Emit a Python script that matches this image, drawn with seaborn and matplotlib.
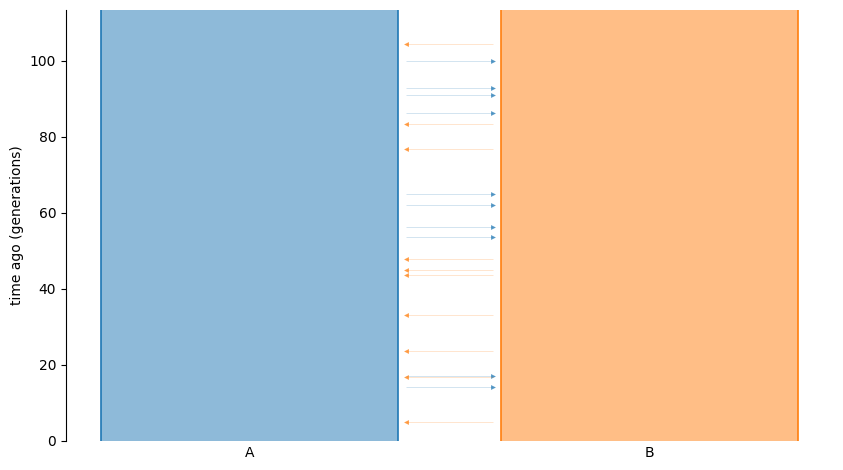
import matplotlib
matplotlib.use("Agg")
import matplotlib.pyplot as plt
import seaborn as sns
import numpy as np

# Data
demes = ["A", "B"]
deme_colors = ["tab:blue", "tab:orange"]
deme_top = [1000.0, 1000.0]  # demes extend to infinity (clipped at axis top)
pulse_times = [104.4, 99.9, 93.0, 91.1, 86.2, 83.4, 76.8, 65.0, 62.0, 56.4,
               53.7, 47.8, 44.9, 43.7, 33.2, 23.7, 17.2, 16.8, 14.3, 4.9]
pulse_source = ["B", "A", "A", "A", "A", "B", "B", "A", "A", "A",
                "A", "B", "B", "B", "B", "B", "A", "B", "A", "B"]
pulse_dest = ["A", "B", "B", "B", "B", "A", "A", "B", "B", "B",
              "B", "A", "A", "A", "A", "A", "B", "A", "B", "A"]
yticks = [0, 20, 40, 60, 80, 100]

sns.set_style("ticks")
plt.rcParams['font.family'] = ['DejaVu Sans']
plt.rcParams.update({'text.color': 'black', 'axes.labelcolor': 'black',
                     'xtick.color': 'black', 'ytick.color': 'black',
                     'axes.edgecolor': 'black'})

fig = plt.figure(figsize=(8.43, 4.70), dpi=100)
ax = fig.add_axes([66/843, 29/470, 767/843, 431/470])

width = 297/400
sns.barplot(x=demes, y=deme_top, hue=demes, palette=deme_colors, width=width,
            alpha=0.5, linewidth=0, saturation=1, legend=False, ax=ax)

ymax = 113.4
pos = {d: i for i, d in enumerate(demes)}
col = {d: c for d, c in zip(demes, deme_colors)}
for d in demes:
    x0 = pos[d] - width/2
    x1 = pos[d] + width/2
    ax.vlines([x0, x1], 0, ymax, color=col[d], lw=1.2, zorder=3)

# pulses
inner = 8/400
for t, s, d in zip(pulse_times, pulse_source, pulse_dest):
    xs = pos[s] + (width/2 + inner) * (1 if pos[d] > pos[s] else -1)
    xd = pos[d] + (width/2 + inner) * (1 if pos[s] > pos[d] else -1)
    ax.plot([xs, xd], [t, t], color=col[s], lw=0.7, alpha=0.2, zorder=2,
            solid_capstyle='butt')
    ax.plot([xd], [t], marker='>' if xd > xs else '<', color=col[s],
            ms=3.5, alpha=0.75, mew=0, zorder=2)

ax.set_xlim(-width/2 - 35/400, 1 + width/2 + 35/400)
ax.set_ylim(0, ymax)
ax.set_yticks(yticks)
ax.set_xticks([0, 1])
ax.set_xticklabels(demes)
ax.tick_params(axis='x', length=0, labelsize=10)
ax.tick_params(axis='y', labelsize=10)
ax.set_ylabel("time ago (generations)", fontsize=10)
ax.set_xlabel("")
sns.despine(ax=ax, bottom=True)

fig.savefig("out.png", dpi=100)
